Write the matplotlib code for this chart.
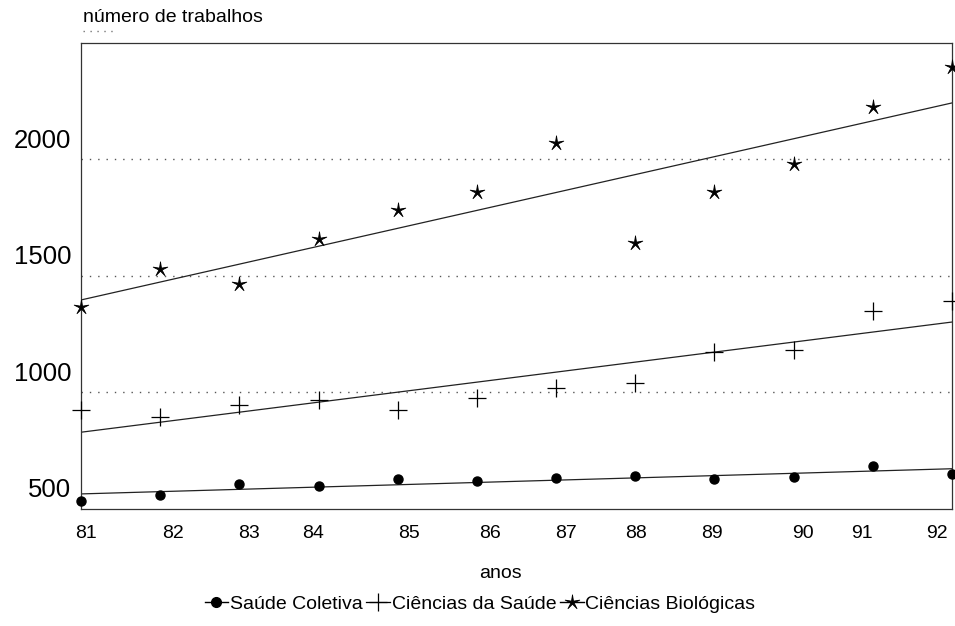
import numpy as np
import matplotlib.pyplot as plt
from matplotlib.path import Path
from matplotlib.lines import Line2D
from matplotlib.transforms import ScaledTranslation

plt.rcParams.update({'font.family': ['Liberation Sans', 'DejaVu Sans'], 'font.size': 14})

# dados (número de trabalhos por ano)
years = [81, 82, 83, 84, 85, 86, 87, 88, 89, 90, 91, 92]
saude_coletiva = [532, 558, 605, 597, 627, 618, 631, 640, 627, 635, 683, 648]
ciencias_saude = [923, 893, 945, 966, 923, 975, 1018, 1039, 1172, 1180, 1348, 1391]
ciencias_bio = [1366, 1529, 1464, 1658, 1782, 1860, 2070, 1640, 1860, 1980, 2225, 2397]
year_labels = ['81', '82', '83', '84', '85', '86', '87', '88', '89', '90', '91', '92']
y_ticks = [500, 1000, 1500, 2000]
series_names = ['Saúde Coletiva', 'Ciências da Saúde', 'Ciências Biológicas']

# the year labels in the original are not evenly spaced
label_x = [81.06, 82.16, 83.12, 83.93, 85.14, 86.17, 87.13, 88.01, 88.97, 90.12, 90.86, 91.81]

# thin five-pointed star
ang = np.pi / 2 + np.arange(10) * np.pi / 5
rad = np.where(np.arange(10) % 2 == 0, 1.0, 0.22)
verts = np.column_stack([rad * np.cos(ang), rad * np.sin(ang)])
star = Path(np.vstack([verts, verts[:1]]), closed=True)

fig = plt.figure(figsize=(9.55, 6.26), dpi=100)
ax = fig.add_axes([81 / 955, 1 - 508.5 / 626, 871 / 955, 465.5 / 626])

x = np.array(years)
styles = [
    dict(marker='o', markersize=6.5, color='black', linestyle='none'),
    dict(marker='+', markersize=13, markeredgewidth=0.9, color='black', linestyle='none'),
    dict(marker=star, markersize=11, markeredgewidth=0.6, color='black', linestyle='none'),
]
for ys, st in zip([saude_coletiva, ciencias_saude, ciencias_bio], styles):
    ax.plot(x, ys, clip_on=False, zorder=3, **st)
    k, b = np.polyfit(x, ys, 1)
    xe = np.array([x[0], x[-1]])
    ax.plot(xe, k * xe + b, color='#222222', linewidth=0.9, zorder=2)

for v in y_ticks[1:]:
    ax.axhline(v, color='#555555', linewidth=1, linestyle=(0, (1, 5)), zorder=1)

ax.set_xlim(81, 92)
ax.set_ylim(500, 2500)
ax.set_xticks(label_x)
ax.set_xticklabels(year_labels)
ax.set_yticks(y_ticks)
ax.set_yticklabels([str(v) for v in y_ticks], fontsize=18.5)
ax.tick_params(axis='x', length=0, pad=12)
ax.tick_params(axis='y', length=0, pad=7)
shift = ScaledTranslation(0, 15 / 72, fig.dpi_scale_trans)
for tk in ax.yaxis.get_major_ticks():
    tk.label1.set_transform(tk.label1.get_transform() + shift)

for sp in ax.spines.values():
    sp.set_linewidth(0.9)
    sp.set_color('#333333')

fig.text(83 / 955, 1 - 18 / 626, 'número de trabalhos', ha='left', va='center', fontsize=14)
fig.add_artist(Line2D([83 / 955, 116 / 955], [1 - 31 / 626, 1 - 31 / 626],
                      color='#777777', linewidth=1, linestyle=(0, (1, 4))))
fig.text(500 / 955, 1 - 573 / 626, 'anos', ha='center', va='center', fontsize=14)

handles = [
    Line2D([], [], marker='o', markersize=7, color='black', linewidth=1),
    Line2D([], [], marker='+', markersize=13, markeredgewidth=0.9, color='black', linewidth=0.9),
    Line2D([], [], marker=star, markersize=11, markeredgewidth=0.6, color='black', linewidth=1),
]
fig.legend(handles, series_names, loc='center', bbox_to_anchor=(480 / 955, 1 - 604 / 626),
           ncol=3, frameon=False, handlelength=1.2, handletextpad=0.1, columnspacing=0.2,
           fontsize=14)

fig.savefig('out.png', dpi=100)
